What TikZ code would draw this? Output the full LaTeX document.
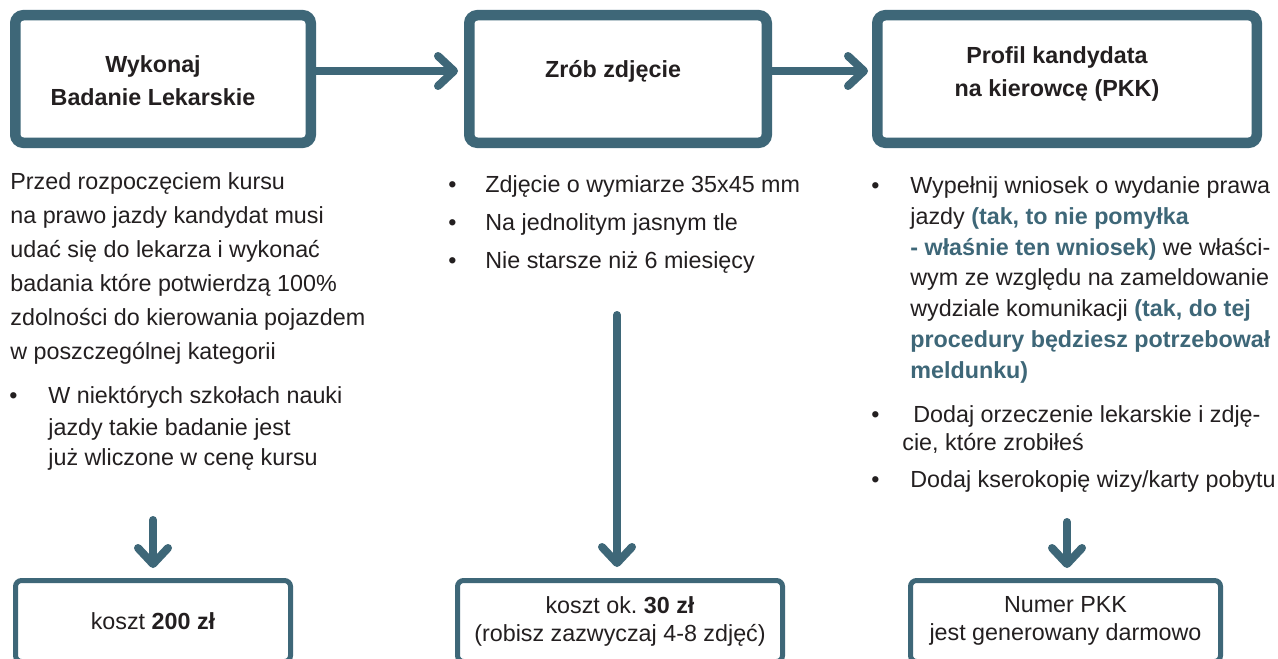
\documentclass[tikz,border=0pt]{standalone}
\usepackage{fontspec}
\setmainfont{Liberation Sans}
\usetikzlibrary{arrows.meta}

\definecolor{petrol}{HTML}{3E6778}
\definecolor{ink}{HTML}{231F20}

\frenchspacing
\newcommand{\bodyfont}{\fontsize{11.65}{14}\selectfont}
\newcommand{\titlefont}{\fontsize{11.65}{16.5}\selectfont\bfseries}
\newcommand{\hl}[1]{\textbf{\color{petrol}#1}}

\tikzset{
  stepbox/.style={draw=petrol, line width=5.25pt, rounded corners=4pt,
    minimum height=63.75pt, inner sep=0pt},
  costbox/.style={draw=petrol, line width=2.5pt, rounded corners=3pt,
    minimum height=40.5pt, align=center, text=ink, font=\bodyfont},
  steptitle/.style={align=center, text=ink, font=\titlefont, inner sep=0pt},
  txt/.style={anchor=base west, inner sep=0pt, text=ink, font=\bodyfont},
  flow/.style={draw=petrol, line width=4pt, line cap=round,
    -{Straight Barb[length=8pt, width=15pt, line cap=round, line join=round]}}
}

\begin{document}
\begin{tikzpicture}[x=0.5pt, y=-0.5pt]

\path[use as bounding box, fill=white] (0,0) rectangle (1278,658);

% Step 1 -- medical examination
\node[stepbox, minimum width=147.75pt] (badanie) at (163,79) {};
\node[steptitle] (badanie-t) at (153,81) {Wykonaj\\Badanie Lekarskie};

% Step 2 -- photo
\node[stepbox, minimum width=148.75pt] (zdjecie) at (618,79) {};
\node[steptitle] (zdjecie-t) at (613,71) {Zrób zdjęcie};

% Step 3 -- PKK profile
\node[stepbox, minimum width=189.75pt] (pkk) at (1067,79) {};
\node[steptitle] (pkk-t) at (1057,74) {Profil kandydata\\na kierowcę (PKK)};

\draw[flow, shorten >=3pt] ([yshift=4pt]badanie.east) -- ([yshift=4pt]zdjecie.west);
\draw[flow, shorten >=2pt] ([yshift=4pt]zdjecie.east) -- ([yshift=4pt]pkk.west);

% Description under step 1
\foreach \y/\t in {189/{Przed rozpoczęciem kursu}, 223/{na prawo jazdy kandydat musi},
    257/{udać się do lekarza i wykonać}, 291/{badania które potwierdzą 100\%},
    325/{zdolności do kierowania pojazdem}, 359/{w poszczególnej kategorii}}
  \node[txt] (opis-\y) at (10,\y) {\t};
\node[txt] (kropka-l) at (9,403) {•};
\foreach \y/\t in {403/{W niektórych szkołach nauki}, 435/{jazdy takie badanie jest},
    465/{już wliczone w cenę kursu}}
  \node[txt] (szkoly-\y) at (48,\y) {\t};

% Description under step 2
\foreach \y/\t in {192/{Zdjęcie o wymiarze 35x45 mm}, 230/{Na jednolitym jasnym tle},
    268/{Nie starsze niż 6 miesięcy}} {
  \node[txt] (kropka-s\y) at (448,\y) {•};
  \node[txt] (foto-\y) at (485,\y) {\t};
}

% Description under step 3
\node[txt] (kropka-r1) at (871,193) {•};
\foreach \y/\t in {193/{Wypełnij wniosek o wydanie prawa},
    224/{jazdy \hl{(tak, to nie pomyłka}},
    255/{\hl{- właśnie ten wniosek)} we właści-},
    285/{wym ze względu na zameldowanie},
    316/{wydziale komunikacji \hl{(tak, do tej}},
    347/{\hl{procedury będziesz potrzebował}},
    378/{\hl{meldunku)}}}
  \node[txt] (wniosek-\y) at (910,\y) {\t};
\node[txt] (kropka-r2) at (871,422) {•};
\node[txt] (orzeczenie-a) at (913,422) {Dodaj orzeczenie lekarskie i zdję-};
\node[txt] (orzeczenie-b) at (902,450) {cie, które zrobiłeś};
\node[txt] (kropka-r3) at (871,487) {•};
\node[txt] (wiza) at (910,487) {Dodaj kserokopię wizy/karty pobytu};

% Costs
\node[costbox, minimum width=137.5pt] (kosztA) at (153,621) {koszt \textbf{200 zł}};
\node[costbox, minimum width=162.5pt] (kosztB) at (620,621)
  {koszt ok. \textbf{30 zł}\\(robisz zazwyczaj 4-8 zdjęć)};
\node[costbox, minimum width=155pt] (kosztC) at (1065.5,621)
  {Numer PKK\\jest generowany darmowo};

\coordinate (startA) at (153,520);
\coordinate (startB) at (617,315);
\coordinate (startC) at (1067,522);
\draw[flow, shorten >=5pt] (startA) -- (startA |- kosztA.north);
\draw[flow, shorten >=5.5pt] (startB) -- (startB |- kosztB.north);
\draw[flow, shorten >=5pt] (startC) -- (startC |- kosztC.north);

\end{tikzpicture}
\end{document}
